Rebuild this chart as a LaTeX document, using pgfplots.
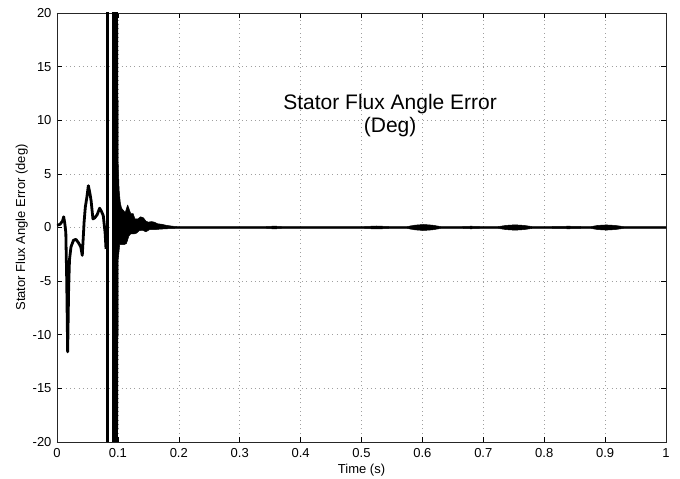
\documentclass[border=0pt]{standalone}
\usepackage{fontspec}
\setmainfont{Liberation Sans}
\usepackage{pgfplots}
\pgfplotsset{compat=1.18}
\begin{document}
\begin{tikzpicture}[x=1pt,y=1pt]
\path[use as bounding box] (0,0) rectangle (680,479);
\begin{axis}[
  at={(57pt,37pt)}, anchor=south west,
  width=609pt, height=429pt, scale only axis,
  xmin=0, xmax=1, ymin=-20, ymax=20,
  xtick={0,0.1,0.2,0.3,0.4,0.5,0.6,0.7,0.8,0.9,1},
  ytick={-20,-15,-10,-5,0,5,10,15,20},
  tick align=inside, major tick length=5pt,
  tick style={black, line width=0.5pt},
  axis line style={black!85, line width=0.6pt},
  grid=major,
  major grid style={gray!75, line width=0.6pt, dash pattern=on 0.8pt off 3.5pt},
  tick label style={font=\fontsize{13}{15}\selectfont, /pgf/number format/assume math mode=true},
  xticklabel style={yshift=-3pt},
  yticklabel style={xshift=-2pt},
  xlabel={Time (s)}, ylabel={Stator Flux Angle Error (deg)},
  label style={font=\fontsize{13}{15}\selectfont},
  xlabel style={yshift=1pt},
  ylabel style={yshift=-2pt},
]
% early transient
\addplot[black, line width=2.8pt, line join=round] coordinates {
(0,0.2) (0.005,0.3) (0.009,0.6) (0.011,1.0) (0.013,0.3) (0.0145,-0.5) (0.016,-5)
(0.0175,-11.6) (0.019,-6) (0.0205,-3) (0.023,-1.8) (0.027,-1.2) (0.031,-1.1)
(0.035,-1.4) (0.039,-1.8) (0.0415,-2.6) (0.0445,0.5) (0.0465,1.9) (0.049,2.8)
(0.0515,3.9) (0.054,3.2) (0.056,2.5) (0.059,0.8) (0.062,0.9) (0.066,1.2)
(0.070,1.8) (0.073,1.5) (0.076,1.1) (0.079,-0.5) (0.0805,-2)
};
% wrap-around bars
\addplot[fill=black, draw=none] coordinates {(0.0805,-25) (0.0854,-25) (0.0854,25) (0.0805,25)} -- cycle;
\addplot[fill=black, draw=none] coordinates {(0.0898,-25) (0.0997,-25) (0.0997,25) (0.0898,25)} -- cycle;
% decaying oscillation band
\addplot[fill=black, draw=black, line width=0.5pt, line join=round] coordinates {
(0.0997,20) (0.1005,6) (0.102,3.5) (0.104,2.3) (0.106,1.8) (0.109,1.6) (0.112,1.4)
(0.116,2.1) (0.118,1.8) (0.121,1.3) (0.125,1.3) (0.128,0.8) (0.133,0.8) (0.137,1.0)
(0.142,0.9) (0.146,0.6) (0.150,0.5) (0.155,0.55) (0.160,0.5) (0.165,0.35) (0.172,0.3)
(0.180,0.2) (0.19,0.12) (0.2,0.08)
(0.34,0.08) (0.357,0.13) (0.372,0.08) (0.5,0.08) (0.525,0.14) (0.55,0.08)
(0.575,0.09) (0.588,0.22) (0.602,0.28) (0.616,0.22) (0.63,0.09) (0.66,0.08)
(0.68,0.12) (0.70,0.08) (0.725,0.09) (0.738,0.2) (0.752,0.25) (0.766,0.2) (0.78,0.09)
(0.80,0.08) (0.84,0.12) (0.87,0.08) (0.877,0.09) (0.889,0.2) (0.902,0.24) (0.915,0.2)
(0.93,0.09) (1,0.08)
(1,-0.08) (0.93,-0.09) (0.915,-0.2) (0.902,-0.24) (0.889,-0.2) (0.877,-0.09)
(0.87,-0.08) (0.84,-0.12) (0.80,-0.08) (0.78,-0.09) (0.766,-0.2) (0.752,-0.25)
(0.738,-0.2) (0.725,-0.09) (0.70,-0.08) (0.68,-0.12) (0.66,-0.08) (0.63,-0.09)
(0.616,-0.22) (0.602,-0.28) (0.588,-0.22) (0.575,-0.09) (0.55,-0.08) (0.525,-0.14)
(0.5,-0.08) (0.372,-0.08) (0.357,-0.13) (0.34,-0.08) (0.2,-0.08)
(0.19,-0.1) (0.18,-0.12) (0.17,-0.15) (0.16,-0.2) (0.152,-0.2) (0.146,-0.4)
(0.14,-0.25) (0.135,-0.3) (0.13,-0.55) (0.126,-0.6) (0.121,-0.6) (0.118,-0.8)
(0.114,-1.5) (0.110,-1.6) (0.103,-1.6) (0.1005,-3) (0.0997,-20)
} -- cycle;
\node[align=center, font=\fontsize{21}{23}\selectfont] at (axis cs:0.547,10.45) {Stator Flux Angle Error\\(Deg)};
\end{axis}
\end{tikzpicture}
\end{document}
